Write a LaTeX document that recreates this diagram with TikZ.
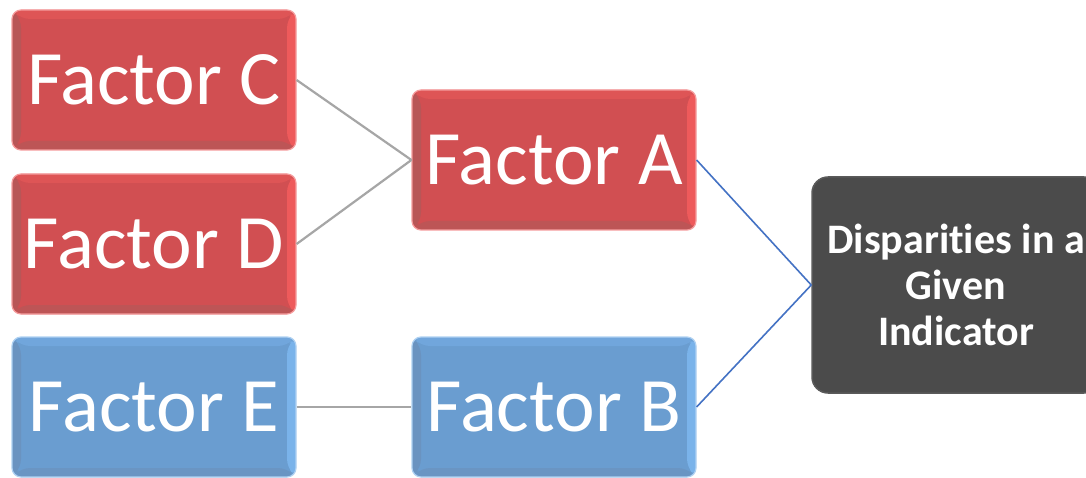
\documentclass[tikz,border=0pt]{standalone}
\usepackage{fontspec}
\setmainfont[Ligatures=NoCommon]{Carlito}
\definecolor{redmain}{HTML}{D14F52}
\definecolor{redlight}{HTML}{EE5A5B}
\definecolor{reddark}{HTML}{B85657}
\definecolor{redtop}{HTML}{DE5556}
\definecolor{bluemain}{HTML}{6A9DD0}
\definecolor{bluelight}{HTML}{7AB3EA}
\definecolor{bluedark}{HTML}{6A93C0}
\definecolor{bluetop}{HTML}{71A6DC}
\definecolor{darkmain}{HTML}{4B4B4B}
\definecolor{darkedge}{HTML}{5A5A5A}
\definecolor{greyline}{HTML}{A6A6A6}
\definecolor{blueline}{HTML}{4472C4}
\newcommand{\bevel}[4]{%
  \fill[#1] (path picture bounding box.north west) -- (path picture bounding box.south west)
     -- ([shift={(9pt,9pt)}]path picture bounding box.south west) -- ([shift={(9pt,-9pt)}]path picture bounding box.north west) -- cycle;
  \fill[#2] (path picture bounding box.north west) -- (path picture bounding box.north east)
     -- ([shift={(-9pt,-9pt)}]path picture bounding box.north east) -- ([shift={(9pt,-9pt)}]path picture bounding box.north west) -- cycle;
  \fill[#3] (path picture bounding box.north east) -- (path picture bounding box.south east)
     -- ([shift={(-9pt,9pt)}]path picture bounding box.south east) -- ([shift={(-9pt,-9pt)}]path picture bounding box.north east) -- cycle;
  \fill[#4] (path picture bounding box.south west) -- (path picture bounding box.south east)
     -- ([shift={(-9pt,9pt)}]path picture bounding box.south east) -- ([shift={(9pt,9pt)}]path picture bounding box.south west) -- cycle;
}
\tikzset{
  factor/.style={rounded corners=9pt, minimum width=284pt, minimum height=140pt, inner sep=0pt,
    text=white, font=\fontsize{77}{82}\selectfont},
  redbox/.style={factor, fill=redmain, draw=redlight!60!white, line width=1.2pt,
    path picture={\bevel{reddark}{redtop}{redlight}{reddark!80!redmain}}},
  bluebox/.style={factor, fill=bluemain, draw=bluelight!60!white, line width=1.2pt,
    path picture={\bevel{bluedark}{bluetop}{bluelight}{bluedark!80!bluemain}}},
  darkbox/.style={rounded corners=16pt, minimum width=288pt, minimum height=216pt, inner sep=0pt,
    fill=darkmain, draw=darkedge, line width=1.5pt, text=white, align=center,
    font=\fontsize{42}{46}\selectfont\bfseries},
  greyconn/.style={draw=greyline, line width=2.2pt},
  blueconn/.style={draw=blueline, line width=1.6pt}
}
\begin{document}
\begin{tikzpicture}[x=1pt,y=-1pt]
\useasboundingbox (0,0) rectangle (1086,478);
\clip (0,0) rectangle (1086,478);
\fill[white] (0,0) rectangle (1086,478);
\node[redbox] (C) at (154,80) {Factor C};
\node[redbox] (D) at (154,244) {Factor D};
\node[bluebox] (E) at (154,407) {Factor E};
\node[redbox] (A) at (554,160) {Factor A};
\node[bluebox] (B) at (554,407) {Factor B};
\node[darkbox] (P) at (956,285) {Disparities in a\\Given\\Indicator};
\draw[greyconn] (C.east) -- (A.west);
\draw[greyconn] (D.east) -- (A.west);
\draw[greyconn] (E.east) -- (B.west);
\draw[blueconn] (A.east) -- (P.west);
\draw[blueconn] (B.east) -- (P.west);
\end{tikzpicture}
\end{document}
